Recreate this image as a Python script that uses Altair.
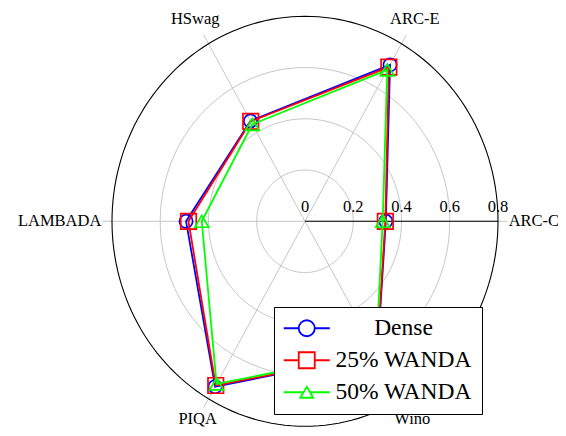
import altair as alt
import pandas as pd

# ---------------- data ----------------
categories = ["ARC-C", "ARC-E", "HSwag", "LAMBADA", "PIQA", "Wino"]
series_names = ["Dense", "25% WANDA", "50% WANDA"]
dense = [0.335, 0.705, 0.452, 0.493, 0.745, 0.600]
wanda25 = [0.333, 0.695, 0.450, 0.483, 0.740, 0.598]
wanda50 = [0.322, 0.682, 0.437, 0.428, 0.733, 0.590]
radial_ticks = [0, 0.2, 0.4, 0.6, 0.8]

# ---------------- style ----------------
colors = ["#0000ff", "#ff0000", "#00ff00"]
shapes = ["circle", "square", "triangle-up"]
marker_sizes = [175, 240, 190]
legend_paths = [
    "M-2.3,0H-0.8M0.8,0H2.3M-0.8,0A0.8,0.8 0 1,1 0.8,0A0.8,0.8 0 1,1 -0.8,0Z",
    "M-2.3,0H-0.8M0.8,0H2.3M-0.8,-0.8H0.8V0.8H-0.8Z",
    "M-2.3,0H-0.33M0.33,0H2.3M0,-0.55L0.65,0.55H-0.65Z",
]
FONT = "Liberation Serif"
GRID = "#c0c0c0"

W, H = 550, 420
PX_X, PX_Y = 241.25, 256.25     # pixels per unit (slightly elliptical polar axis)
CX, CY = 297.0, 213.3           # centre inside the plot area
xdom = [-CX / PX_X, (W - CX) / PX_X]
ydom = [-(H - CY) / PX_Y, CY / PX_Y]
N = len(categories)
RMAX = max(radial_ticks)

xs = alt.Scale(domain=xdom, nice=False, zero=False)
ys = alt.Scale(domain=ydom, nice=False, zero=False)


def X(f):
    return alt.X(f, type="quantitative", scale=xs, axis=None)


def Y(f):
    return alt.Y(f, type="quantitative", scale=ys, axis=None)


rows = []
for name, vals in zip(series_names, [dense, wanda25, wanda50]):
    for i in range(N + 1):
        rows.append({"series": name, "cat": categories[i % N], "idx": i,
                     "value": vals[i % N]})
df = pd.DataFrame(rows)

cat_df = pd.DataFrame({"cat": categories, "idx": list(range(N))})
tick_df = pd.DataFrame({"t": radial_ticks})

# ---------------- grid ----------------
rings = alt.Chart(pd.DataFrame({"r": radial_ticks[1:]})).transform_calculate(
    t="sequence(0, 362, 2)"
).transform_flatten(["t"]).transform_calculate(
    px="datum.r*cos(datum.t*PI/180)", py="datum.r*sin(datum.t*PI/180)"
)
gray_rings = rings.transform_filter(f"datum.r < {RMAX}").mark_line(
    color=GRID, strokeWidth=0.9
).encode(x=X("px"), y=Y("py"), detail="r:N", order="t:Q")
outer_ring = rings.transform_filter(f"datum.r >= {RMAX}").mark_line(
    color="black", strokeWidth=1.1
).encode(x=X("px"), y=Y("py"), detail="r:N", order="t:Q")

spokes = alt.Chart(cat_df).transform_calculate(
    a=f"2*PI*datum.idx/{N}"
).transform_calculate(
    ex=f"{RMAX + 0.04}*cos(datum.a)", ey=f"{RMAX + 0.04}*sin(datum.a)", z="0"
).mark_rule(color=GRID, strokeWidth=0.9).encode(
    x=X("z"), y=Y("z"), x2=alt.X2("ex:Q"), y2=alt.Y2("ey:Q")
)

radial_axis = alt.Chart(tick_df).transform_aggregate(
    lo="min(t)", hi="max(t)"
).transform_calculate(z="0").mark_rule(color="black", strokeWidth=1.1).encode(
    x=X("lo"), x2=alt.X2("hi:Q"), y=Y("z")
)

tick_labels = alt.Chart(tick_df).transform_calculate(
    z="0", label="toString(datum.t)"
).mark_text(font=FONT, fontSize=16.5, color="black", baseline="middle",
            align="center", dy=-14).encode(x=X("t"), y=Y("z"), text="label:N")

cat_base = alt.Chart(cat_df).transform_calculate(a=f"2*PI*datum.idx/{N}")


def cat_layer(flt, r, align, dx=0, dy=0):
    return cat_base.transform_filter(flt).transform_calculate(
        lx=f"{r}*cos(datum.a)", ly=f"{r}*sin(datum.a)"
    ).mark_text(font=FONT, fontSize=16.5, color="black", align=align,
                baseline="middle", dx=dx, dy=dy).encode(
        x=X("lx"), y=Y("ly"), text="cat:N")


cat_right = cat_layer("datum.idx == 0", RMAX + 0.04, "left", dx=1)
cat_left = cat_layer(f"datum.idx == {N // 2}", RMAX + 0.04, "right", dx=-1)
cat_top = cat_layer(f"datum.idx > 0 && datum.idx < {N // 2}", 0.91, "center")
cat_bottom = cat_layer(f"datum.idx > {N // 2}", 0.89, "center")

# ---------------- series ----------------
base = alt.Chart(df).transform_calculate(
    a=f"2*PI*datum.idx/{N}"
).transform_calculate(
    px="datum.value*cos(datum.a)", py="datum.value*sin(datum.a)"
)

series_layers = []
for name, col, shp, sz in zip(series_names, colors, shapes, marker_sizes):
    s = base.transform_filter(alt.datum.series == name)
    series_layers.append(
        s.mark_line(color=col, strokeWidth=1.8).encode(
            x=X("px"), y=Y("py"), order="idx:Q")
    )
    series_layers.append(
        s.transform_filter(f"datum.idx < {N}").mark_point(
            color=col, shape=shp, size=sz, filled=False, strokeWidth=1.7,
            opacity=1).encode(x=X("px"), y=Y("py"))
    )

leg_props = dict(
    orient="none", legendX=266, legendY=299, title=None,
    fillColor="white", strokeColor="black", padding=9.5,
    symbolSize=400, symbolStrokeWidth=1.8, symbolOpacity=1,
    symbolOffset=11.5, labelOffset=85, labelAlign="center",
    labelFont=FONT, labelFontSize=23.5, labelColor="black",
    labelExpr="datum.label + '\u00a0'",
    rowPadding=7, labelLimit=300,
)

legend_layer = base.transform_filter(f"datum.idx < {N}").mark_point(
    filled=False, opacity=0
).encode(
    x=X("px"), y=Y("py"),
    color=alt.Color("series:N", scale=alt.Scale(domain=series_names, range=colors),
                    legend=alt.Legend(**leg_props)),
    shape=alt.Shape("series:N", scale=alt.Scale(domain=series_names, range=legend_paths),
                    legend=alt.Legend(**leg_props)),
)

chart = alt.layer(
    gray_rings, spokes, outer_ring, radial_axis, tick_labels,
    cat_right, cat_left, cat_top, cat_bottom,
    *series_layers, legend_layer,
).properties(
    width=W, height=H, padding=0, autosize="none"
).configure(font=FONT).configure_view(strokeWidth=0, stroke="transparent")

chart.save("out.html", embed_options={"renderer": "svg", "actions": False})
